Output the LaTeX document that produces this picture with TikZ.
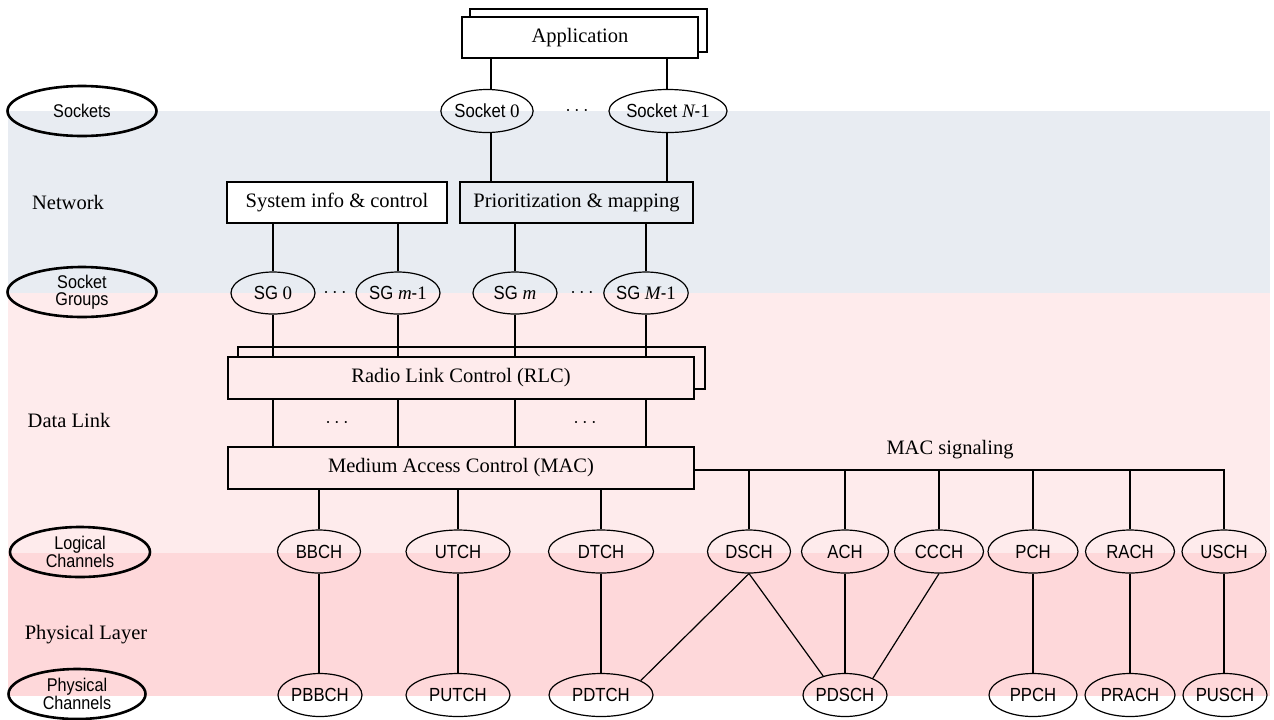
\documentclass[tikz,border=0pt]{standalone}
\usepackage{fontspec}
\setmainfont{Liberation Serif}
\newfontfamily\nsans[FakeStretch=0.88]{Liberation Sans}
\usetikzlibrary{shapes.geometric}
\definecolor{bandblue}{RGB}{232,236,242}
\definecolor{bandpink}{RGB}{254,235,236}
\definecolor{bandred}{RGB}{254,216,218}
\begin{document}
\begin{tikzpicture}[x=0.5pt,y=-0.5pt,
 box/.style={draw, line width=0.9pt, rectangle, inner sep=0, font=\fontsize{10.25}{12}\selectfont},
 ch/.style={draw, line width=0.6pt, ellipse, inner sep=0, minimum height=21.5pt, font=\nsans\fontsize{9.5}{10}\selectfont},
 lay/.style={draw, line width=1.3pt, ellipse, inner sep=0, minimum height=25pt, align=center, font=\nsans\fontsize{9.2}{8.6}\selectfont},
 conn/.style={line width=0.6pt},
 lbl/.style={font=\fontsize{10.25}{12}\selectfont, inner sep=0},
 dots/.style={inner sep=0, font=\fontsize{10}{12}\selectfont}
]
\useasboundingbox (0,0) rectangle (1274,719);
% bands
\fill[bandblue] (8,111) rectangle (1270,293);
\fill[bandpink] (8,293) rectangle (1270,553);
\fill[bandred] (8,553) rectangle (1270,696);

% left layer labels
\node[lay, minimum width=74.5pt] (lsock) at (82,111) {Sockets};
\node[lbl] (lnet) at (68,202) {Network};
\node[lay, minimum width=74.5pt] (lsg) at (82,292) {Socket\\Groups};
\node[lbl] (ldl) at (69,420) {Data Link};
\node[lay, minimum width=70pt] (llog) at (80,552) {Logical\\Channels};
\node[lbl] (lphy) at (86,635) {Physical Layer};
\node[lay, minimum width=68.5pt] (lpch) at (77,694) {Physical\\Channels};

% application
\draw[line width=0.9pt, fill=white] (470,9) rectangle (707,52);
\node[box, fill=white, minimum width=118pt, minimum height=20.5pt] (app) at (580,37.5) {Application};

% sockets
\node[ch, minimum width=46pt] (sock0) at (487,111) {Socket {\rmfamily 0}};
\node[dots] (sdots) at (577,111) {$\cdots$};
\node[ch, minimum width=52pt] (sockN) at (668,111) {Socket {\rmfamily\itshape N}-{\rmfamily 1}};
\coordinate (xa) at (491,0);
\coordinate (xb) at (667,0);

% network boxes
\node[box, fill=white, minimum width=110pt, minimum height=20.5pt] (sys) at (337,202.5) {System info \& control};
\node[box, minimum width=116.5pt, minimum height=20.5pt] (prio) at (576.5,202.5) {Prioritization \& mapping};

\draw[conn] (xa |- app.south) -- (xa |- sock0.north);
\draw[conn] (xb |- app.south) -- (xb |- sockN.north);
\draw[conn] (xa |- sock0.south) -- (xa |- prio.north);
\draw[conn] (xb |- sockN.south) -- (xb |- prio.north);

% socket groups
\node[ch, minimum width=42pt, minimum height=21pt] (sg0) at (273,293) {SG {\rmfamily 0}};
\node[dots] (sgdots1) at (335,293) {$\cdots$};
\node[ch, minimum width=42pt, minimum height=21pt] (sgm1) at (398,293) {SG {\rmfamily\itshape m}-{\rmfamily 1}};
\node[ch, minimum width=42pt, minimum height=21pt] (sgm) at (515,293) {SG {\rmfamily\itshape m}};
\node[dots] (sgdots2) at (582,293) {$\cdots$};
\node[ch, minimum width=42pt, minimum height=21pt] (sgM) at (646,293) {SG {\rmfamily\itshape M}-{\rmfamily 1}};

\draw[conn] (sg0.north) -- (sg0.north |- sys.south);
\draw[conn] (sgm1.north) -- (sgm1.north |- sys.south);
\draw[conn] (sgm.north) -- (sgm.north |- prio.south);
\draw[conn] (sgM.north) -- (sgM.north |- prio.south);

% RLC and MAC
\draw[line width=0.9pt] (238,347) rectangle (705,389);
\node[box, fill=bandpink, minimum width=233pt, minimum height=21pt] (rlc) at (461,378) {Radio Link Control (RLC)};
\node[box, minimum width=233pt, minimum height=21pt] (mac) at (461,468) {Medium Access Control (MAC)};

\draw[conn] (sg0.south) -- (sg0.south |- rlc.north);
\draw[conn] (sgm1.south) -- (sgm1.south |- rlc.north);
\draw[conn] (sgm.south) -- (sgm.south |- rlc.north);
\draw[conn] (sgM.south) -- (sgM.south |- rlc.north);
\draw[conn] (sg0 |- rlc.south) -- (sg0 |- mac.north);
\draw[conn] (sgm1 |- rlc.south) -- (sgm1 |- mac.north);
\draw[conn] (sgm |- rlc.south) -- (sgm |- mac.north);
\draw[conn] (sgM |- rlc.south) -- (sgM |- mac.north);
\node[dots] (rdots1) at (337,423) {$\cdots$};
\node[dots] (rdots2) at (585,423) {$\cdots$};

% logical channels
\node[ch, minimum width=41.5pt] (bbch) at (319,551.5) {BBCH};
\node[ch, minimum width=52pt] (utch) at (458,551.5) {UTCH};
\node[ch, minimum width=52.5pt] (dtch) at (601,551.5) {DTCH};
\node[ch, minimum width=41.5pt] (dsch) at (749,551.5) {DSCH};
\node[ch, minimum width=43.5pt] (ach) at (845,551.5) {ACH};
\node[ch, minimum width=44.5pt] (ccch) at (939,551.5) {CCCH};
\node[ch, minimum width=45pt] (pch) at (1033,551.5) {PCH};
\node[ch, minimum width=44.5pt] (rach) at (1130,551.5) {RACH};
\node[ch, minimum width=42pt] (usch) at (1224,551.5) {USCH};

% physical channels
\node[ch, minimum width=42pt] (pbbch) at (320,695) {PBBCH};
\node[ch, minimum width=52pt] (putch) at (458,695) {PUTCH};
\node[ch, minimum width=52pt] (pdtch) at (601,695) {PDTCH};
\node[ch, minimum width=42pt] (pdsch) at (845,695) {PDSCH};
\node[ch, minimum width=44pt] (ppch) at (1033,695) {PPCH};
\node[ch, minimum width=45pt] (prach) at (1130,695) {PRACH};
\node[ch, minimum width=42pt] (pusch) at (1225,695) {PUSCH};

% MAC to logical
\draw[conn] (bbch.north) -- (bbch.north |- mac.south);
\draw[conn] (utch.north) -- (utch.north |- mac.south);
\draw[conn] (dtch.north) -- (dtch.north |- mac.south);
\coordinate (sig) at (1224,470);
\draw[conn] (mac.east |- sig) -- (sig) -- (usch.north);
\foreach \c in {dsch,ach,ccch,pch,rach}{
  \draw[conn] (\c.north |- sig) -- (\c.north);
}
\node[lbl] (macsig) at (950,450) {MAC signaling};

% logical to physical
\draw[conn] (bbch.south) -- (bbch.south |- pbbch.north);
\draw[conn] (utch.south) -- (utch.south |- putch.north);
\draw[conn] (dtch.south) -- (dtch.south |- pdtch.north);
\draw[conn] (dsch.south) -- (pdtch.20);
\draw[conn] (dsch.south) -- (pdsch.139);
\draw[conn] (ach.south) -- (ach.south |- pdsch.north);
\draw[conn] (ccch.south) -- (pdsch.31);
\draw[conn] (pch.south) -- (pch.south |- ppch.north);
\draw[conn] (rach.south) -- (rach.south |- prach.north);
\draw[conn] (usch.south) -- (usch.south |- pusch.north);
\end{tikzpicture}
\end{document}
